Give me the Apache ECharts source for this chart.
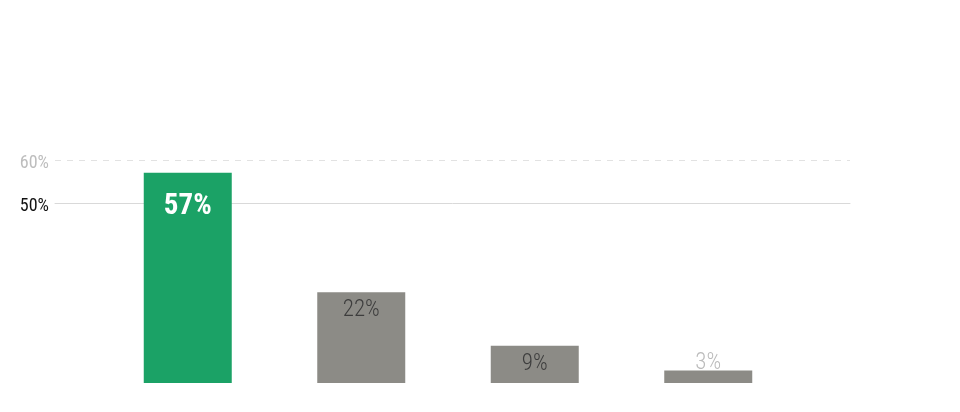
<!DOCTYPE html>
<html><head><meta charset="utf-8">
<script src="https://cdn.jsdelivr.net/npm/echarts@6/dist/echarts.min.js"></script>
<style>html,body{margin:0;padding:0;background:#fff}#c{width:960px;height:412px}</style>
</head><body><div id="c"></div>
<script>
// Data
const categories = ['Option 1', 'Option 2', 'Option 3', 'Option 4'];
const values = [57, 22, 9, 3];
const highlightIndex = 0;
const gridTickMin = 50;
const gridTickMax = 60;

const FONT = "'Roboto Condensed','Liberation Sans Narrow','DejaVu Sans Condensed',Roboto,sans-serif";
const GREEN = '#1ba266';
const GRAY = '#8c8b86';

const greenData = values.map((v, i) => i === highlightIndex ? v : '-');
const grayData = values.map((v, i) => {
  if (i === highlightIndex) return '-';
  const small = v < 5;
  return {
    value: v,
    label: small
      ? { position: 'top', distance: -4, color: '#bbbbbb' }
      : { position: 'insideTop', distance: 7, color: '#3d3d3d' }
  };
});

const chart = echarts.init(document.getElementById('c'), null, { renderer: 'canvas' });
chart.setOption({
  animation: false,
  backgroundColor: '#ffffff',
  grid: [
    { left: 55, right: 110, top: 160, bottom: 209 },
    { left: 101, right: 165, top: 160, bottom: 29 }
  ],
  xAxis: [
    { gridIndex: 0, type: 'category', data: categories,
      axisLine: { show: true, onZero: false, lineStyle: { color: '#d9d9d9', width: 1 } },
      axisTick: { show: false }, axisLabel: { show: false }, splitLine: { show: false } },
    { gridIndex: 1, type: 'category', data: categories,
      axisLine: { show: false }, axisTick: { show: false }, axisLabel: { show: false } }
  ],
  yAxis: [
    { gridIndex: 0, type: 'value', min: gridTickMin, max: gridTickMax, interval: 10,
      axisLine: { show: false }, axisTick: { show: false },
      axisLabel: { show: true, margin: 6,
        formatter: (v) => (Number(v) === gridTickMax ? '{hi|' + v + '%}' : '{lo|' + v + '%}'),
        rich: {
          hi: { fontFamily: FONT, fontSize: 18, color: '#bdbdbd', padding: [6, 0, 0, 0] },
          lo: { fontFamily: FONT, fontSize: 18, color: '#111111', padding: [6, 0, 0, 0] }
        } },
      splitLine: { show: true, showMinLine: false,
        lineStyle: { color: '#e2e2e2', type: [6, 6], width: 1 } } },
    { gridIndex: 1, type: 'value', min: 8, max: 60, show: false, splitLine: { show: false } },
    { gridIndex: 1, type: 'value', min: 0, max: 54, show: false, splitLine: { show: false } }
  ],
  series: [
    { type: 'bar', xAxisIndex: 1, yAxisIndex: 1, data: greenData, barWidth: 88, barGap: '-100%',
      itemStyle: { color: GREEN },
      label: { show: true, position: 'insideTop', distance: 19, formatter: '{c}%',
        fontFamily: FONT, fontSize: 29, fontWeight: 'bold', color: '#ffffff' } },
    { type: 'bar', xAxisIndex: 1, yAxisIndex: 2, data: grayData, barWidth: 88, barGap: '-100%',
      itemStyle: { color: GRAY },
      label: { show: true, formatter: '{c}%', fontFamily: FONT, fontSize: 23, fontWeight: 300 } }
  ]
});
</script>
</body></html>
